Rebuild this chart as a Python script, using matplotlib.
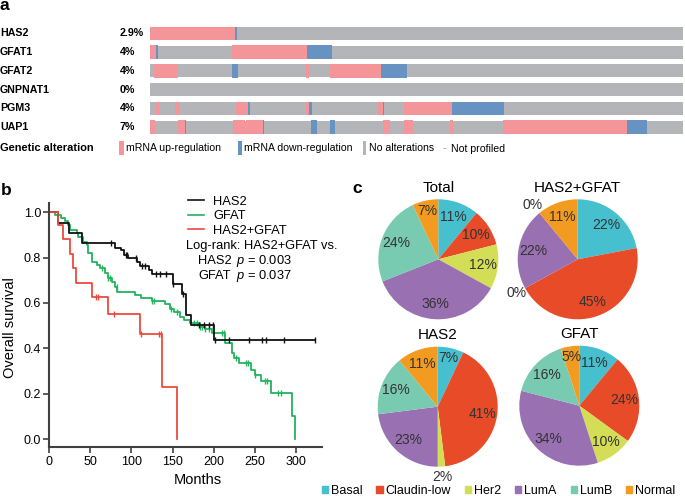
"""
Multi-panel figure: oncoprint (a), Kaplan-Meier survival (b), PAM50 subtype pies (c).
"""

import numpy as np
import matplotlib
matplotlib.use("Agg")
import matplotlib.pyplot as plt
import matplotlib.transforms as mtransforms
from matplotlib.patches import Rectangle, Patch
from matplotlib.lines import Line2D

plt.rcParams["font.family"] = ["Liberation Sans", "DejaVu Sans"]
plt.rcParams["mathtext.fontset"] = "custom"
plt.rcParams["mathtext.it"] = "Liberation Sans:italic"
plt.rcParams["mathtext.rm"] = "Liberation Sans"

# ---------------- data ----------------
# panel a: oncoprint, segments as % of the sample track
genes = ["HAS2", "GFAT1", "GFAT2", "GNPNAT1", "PGM3", "UAP1"]
gene_pct = ["2.9%", "4%", "4%", "0%", "4%", "7%"]
up_reg = {
    "HAS2": [(0, 16.0)],
    "GFAT1": [(0, 1.1), (15.4, 29.5)],
    "GFAT2": [(0.8, 5.3), (29.2, 29.9), (33.8, 43.3)],
    "GNPNAT1": [],
    "PGM3": [(1.1, 1.7), (4.7, 5.6), (16.1, 18.4), (29.3, 29.8), (42.8, 43.7), (47.7, 56.7)],
    "UAP1": [(0, 0.9), (5.3, 6.6), (15.6, 17.8), (18.0, 21.2), (43.7, 45.0), (47.7, 49.3),
             (56.3, 56.9), (66.2, 89.4)],
}
down_reg = {
    "HAS2": [(16.0, 16.3)],
    "GFAT1": [(1.1, 1.5), (29.5, 34.1)],
    "GFAT2": [(15.4, 16.5), (43.3, 48.2)],
    "GNPNAT1": [],
    "PGM3": [(18.4, 18.8), (29.8, 30.4), (43.7, 43.9), (56.7, 66.5)],
    "UAP1": [(6.6, 6.8), (21.2, 21.4), (30.2, 31.3), (33.8, 34.7), (89.4, 93.2)],
}

# panel b: Kaplan-Meier steps (event times, survival after event) and censor times
has2_t = [0, 10, 24, 40, 80, 87, 91, 96, 107, 111, 121, 125, 150, 162, 166, 172, 200.5]
has2_s = [1.0, 0.951, 0.91, 0.863, 0.844, 0.834, 0.81, 0.797, 0.782, 0.765, 0.746, 0.728,
          0.685, 0.64, 0.547, 0.503, 0.437]
has2_cens = [75, 93, 95, 105, 113, 116, 130, 135, 142, 151, 163, 182, 188, 195, 199,
             202, 218.6, 243, 259.5, 263.5, 286, 324]

gfat_t = [0, 7, 14.3, 19.2, 23.3, 25.3, 33.4, 35.4, 41.5, 45.6, 46.8, 51.7, 57.8, 61.9,
          68, 72, 76.2, 80.2, 82.3, 104.6, 112, 125, 141.3, 147.4, 151.4, 159.6, 163.6,
          171.8, 184, 190, 198, 214.5, 222.7, 224.7, 230.8, 245, 251, 257.3, 269.5, 296, 298.8]
gfat_s = [1.0, 0.988, 0.973, 0.963, 0.944, 0.922, 0.907, 0.892, 0.870, 0.856, 0.819,
          0.782, 0.768, 0.753, 0.731, 0.709, 0.694, 0.672, 0.650, 0.637, 0.622, 0.607,
          0.595, 0.575, 0.56, 0.54, 0.525, 0.510, 0.495, 0.485, 0.466, 0.422, 0.378,
          0.356, 0.335, 0.306, 0.284, 0.255, 0.203, 0.100, 0.0]
gfat_cens = [64, 72, 74, 82, 125, 127, 148, 155, 176, 180, 184, 186, 190, 194, 210,
             212.5, 226.7, 239, 242, 251, 263, 265, 278, 282]

both_t = [0, 10, 17, 25, 28.5, 32.5, 52, 72, 110, 137, 155]
both_s = [1.0, 0.944, 0.881, 0.815, 0.753, 0.687, 0.625, 0.55, 0.462, 0.228, 0.0]
both_cens = [57, 59, 79, 112, 133, 136]

# panel c: subtype distribution (%)
subtypes = ["Basal", "Claudin-low", "Her2", "LumA", "LumB", "Normal"]
pie_total = [11, 10, 12, 36, 24, 7]
pie_both = [22, 45, 0, 22, 0, 11]
pie_has2 = [7, 41, 2, 23, 16, 11]
pie_gfat = [11, 24, 10, 34, 16, 5]

# ---------------- style ----------------
PINK = "#F4959A"
BLUE = "#6693C2"
GREY = "#B4B5B8"
KM_COLORS = {"HAS2": "#111111", "GFAT": "#22B35E", "HAS2+GFAT": "#EE4A3D"}
PIE_COLORS = ["#46C0CF", "#E84B27", "#D3DD55", "#9970B1", "#78CAB0", "#F39B20"]
AXIS_C = "#404040"
KM_FS = 9.3

W, H = 685, 496
fig = plt.figure(figsize=(W / 100, H / 100), dpi=100)


def px_box(x0, y0, x1, y1):
    return [x0 / W, 1 - y1 / H, (x1 - x0) / W, (y1 - y0) / H]


def fx(x):
    return x / W


def fy(y):
    return 1 - y / H


# ---------------- panel a ----------------
fig.text(fx(0), fy(10.5), "a", fontsize=12.5, fontweight="bold", va="baseline")
ax_a = fig.add_axes(px_box(150, 24, 683, 136.5))
ax_a.set_xlim(0, 100)
ax_a.set_ylim(len(genes) - 0.5, -0.5)
ax_a.axis("off")
blend = mtransforms.blended_transform_factory(ax_a.transAxes, ax_a.transData)
for i, g in enumerate(genes):
    ax_a.barh(i, 100, left=0, height=0.7, color=GREY, lw=0)
    for s, e in up_reg[g]:
        ax_a.barh(i, e - s, left=s, height=0.72, color=PINK, lw=0)
    for s, e in down_reg[g]:
        ax_a.barh(i, e - s, left=s, height=0.72, color=BLUE, lw=0)
    ax_a.text(-0.2814, i, g, transform=blend, fontsize=7.7, fontweight="bold", va="center")
    ax_a.text(-0.0563, i, gene_pct[i], transform=blend, fontsize=7.7, fontweight="bold", va="center")

leg_y = 148
fig.text(fx(0), fy(leg_y), "Genetic alteration", fontsize=7.9, fontweight="bold", va="center")
for x0, w, c, label, tx in [(119, 5, PINK, "mRNA up-regulation", 126.5),
                            (237.5, 4.5, BLUE, "mRNA down-regulation", 243.5),
                            (362.5, 3.5, GREY, "No alterations", 369)]:
    fig.add_artist(Rectangle((fx(x0), fy(leg_y + 6.5)), w / W, 13 / H,
                             transform=fig.transFigure, color=c, lw=0))
    fig.text(fx(tx), fy(leg_y), label, fontsize=7.6, va="center")
fig.text(fx(443), fy(leg_y), "-", fontsize=7.6, va="center", color="#888888")
fig.text(fx(450.5), fy(leg_y + 1), "Not profiled", fontsize=7.6, va="center")

# ---------------- panel b ----------------
fig.text(fx(1), fy(195), "b", fontsize=12.5, fontweight="bold", va="baseline")
ax_b = fig.add_axes(px_box(49.3, 203.2, 322, 447.4))
ax_b.set_xlim(0, 332)
ax_b.set_ylim(-0.037, 1.04)


def km_line(ax, t, s, cens, color):
    t_end = max(t[-1], max(cens))
    ax.step(list(t) + [t_end], list(s) + [s[-1]], where="post", color=color, lw=1.3)
    idx = np.searchsorted(t, cens, side="right") - 1
    ax.plot(cens, np.asarray(s)[idx], ls="none", marker="|", ms=5, mew=1.0, color=color)


km_line(ax_b, gfat_t, gfat_s, gfat_cens, KM_COLORS["GFAT"])
km_line(ax_b, has2_t, has2_s, has2_cens, KM_COLORS["HAS2"])
km_line(ax_b, both_t, both_s, both_cens, KM_COLORS["HAS2+GFAT"])

ax_b.set_xticks(np.arange(0, 301, 50))
ax_b.set_yticks(np.arange(0, 1.01, 0.2))
ax_b.set_yticklabels([f"{v:.1f}" for v in np.arange(0, 1.01, 0.2)])
ax_b.spines[["top", "right"]].set_visible(False)
for sp in ("left", "bottom"):
    ax_b.spines[sp].set_color(AXIS_C)
    ax_b.spines[sp].set_linewidth(1.5)
ax_b.tick_params(direction="out", length=4, width=1.2, color=AXIS_C, labelsize=9, pad=2)

handles = [Line2D([], [], color=KM_COLORS[k], lw=1.2) for k in KM_COLORS]
ax_b.legend(handles, list(KM_COLORS), loc="upper left", bbox_to_anchor=(0.509, 1.03),
            frameon=False, fontsize=KM_FS, handlelength=1.25, handletextpad=0.7,
            labelspacing=0.18, borderpad=0, borderaxespad=0)
ax_b.text(0.503, 0.825, "Log-rank: HAS2+GFAT vs.", transform=ax_b.transAxes, fontsize=KM_FS, va="center")
ax_b.text(0.545, 0.765, "HAS2", transform=ax_b.transAxes, fontsize=KM_FS, va="center")
ax_b.text(0.685, 0.765, r"$\mathit{p}$ = 0.003", transform=ax_b.transAxes, fontsize=KM_FS, va="center")
ax_b.text(0.545, 0.702, "GFAT", transform=ax_b.transAxes, fontsize=KM_FS, va="center")
ax_b.text(0.685, 0.702, r"$\mathit{p}$ = 0.037", transform=ax_b.transAxes, fontsize=KM_FS, va="center")

fig.text(fx(10), fy(328), "Overall survival", fontsize=10.5, rotation=90, ha="center", va="center")
fig.text(fx(198), fy(480), "Months", fontsize=10.5, ha="center", va="center")

# ---------------- panel c ----------------
fig.text(fx(352), fy(193), "c", fontsize=12.5, fontweight="bold", va="baseline")


def draw_pie(cx, cy, r, vals, title):
    ax = fig.add_axes(px_box(cx - r, cy - r, cx + r, cy + r))
    wedges, _ = ax.pie(vals, colors=PIE_COLORS, startangle=90, counterclock=False,
                       radius=1, wedgeprops=dict(linewidth=0))
    ax.set_xlim(-1, 1)
    ax.set_ylim(-1, 1)
    ax.set_aspect("equal")
    for w, v in zip(wedges, vals):
        ang = np.deg2rad((w.theta1 + w.theta2) / 2)
        if v < 4:
            d = 1.17
        elif v < 8:
            d = 0.83
        else:
            d = 0.75
        ax.text(d * np.cos(ang), d * np.sin(ang), f"{v}%", ha="center", va="center",
                fontsize=10, color="#333333")
    ax.text(0, 1.19, title, ha="center", va="center", fontsize=11)


draw_pie(438.3, 259.3, 60, pie_total, "Total")
draw_pie(577.7, 259.3, 60, pie_both, "HAS2+GFAT")
draw_pie(437.7, 406.7, 60, pie_has2, "HAS2")
draw_pie(579.3, 405.7, 60, pie_gfat, "GFAT")

fig.legend([Patch(color=c) for c in PIE_COLORS], subtypes, loc="center left",
           bbox_to_anchor=(fx(321.5), fy(491)), ncol=6, frameon=False, fontsize=9,
           handlelength=0.5, handleheight=0.5, handletextpad=0.25, columnspacing=1.1,
           borderpad=0, borderaxespad=0)

fig.savefig("out.png", dpi=100)
